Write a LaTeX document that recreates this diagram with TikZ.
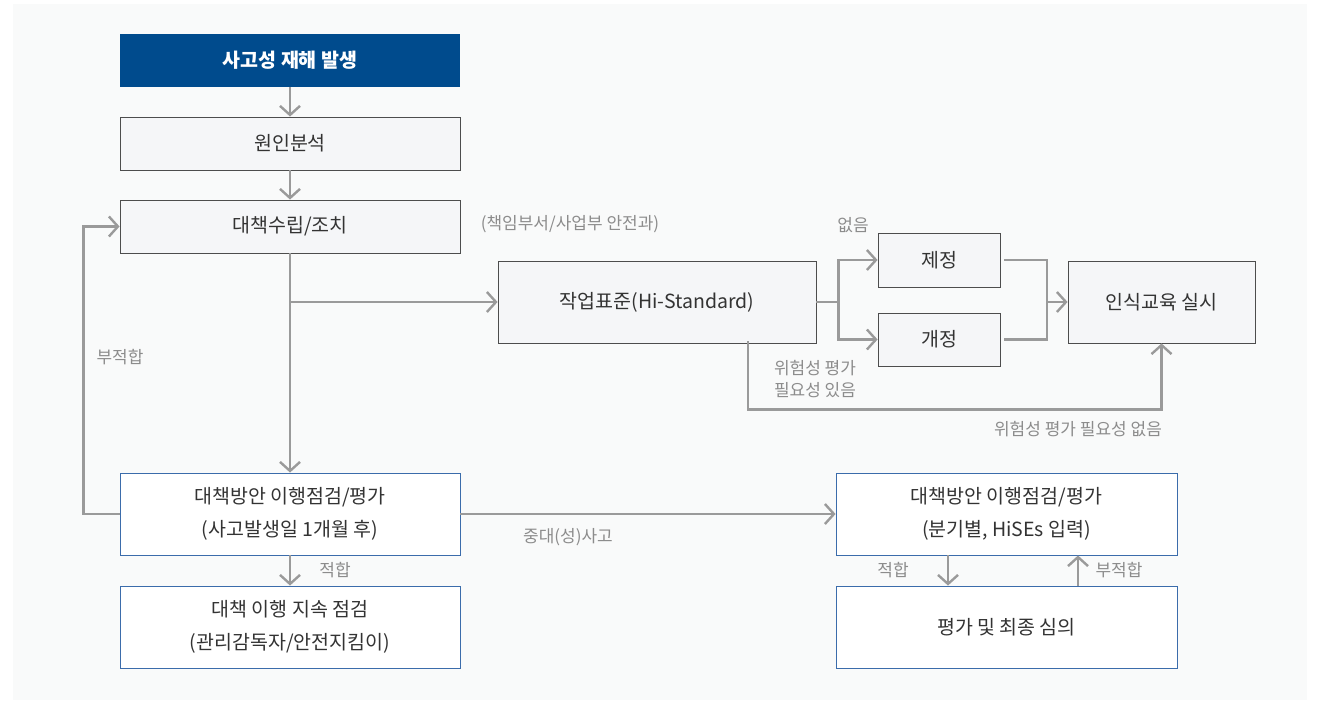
\documentclass[tikz,border=0pt]{standalone}
\usepackage{fontspec}
\setmainfont{Noto Sans CJK KR}
\usetikzlibrary{arrows.meta}
\definecolor{navy}{HTML}{004B8D}
\definecolor{boxfill}{HTML}{F5F6F8}
\definecolor{boxline}{HTML}{4D4D4D}
\definecolor{blueline}{HTML}{3B6CAB}
\definecolor{bgfill}{HTML}{F9FAFA}
\definecolor{ink}{HTML}{333333}
\definecolor{flow}{HTML}{9A9A9A}
\definecolor{note}{HTML}{8C8C8C}

\begin{document}
\begin{tikzpicture}[x=1pt, y=-1pt,
    box/.style={draw=boxline, fill=boxfill, text=ink, inner sep=0pt, line width=0.9pt,
      align=center, font=\fontsize{19.5}{33}\selectfont},
    wbox/.style={box, draw=blueline, fill=white},
    ln/.style={draw=flow, line width=2.4pt},
    arr/.style={ln, -{Straight Barb[length=9pt, width=20pt]}},
    lbl/.style={text=note, inner sep=0pt, align=center, font=\fontsize{17}{22.5}\selectfont}]
            \useasboundingbox (0,0) rectangle (1323,703);
            \fill[white] (0,0) rectangle (1323,703);
            \fill[bgfill] (13,4) rectangle (1307,700);

            \node[box, draw=none, fill=navy, text=white, font=\fontsize{19.5}{33}\selectfont\bfseries,
              minimum width=340pt, minimum height=53pt] (accident) at (290,60.5) {사고성 재해 발생};
            \node[box, minimum width=340pt, minimum height=53pt] (cause) at (290,143.5) {원인분석};
            \node[box, minimum width=340pt, minimum height=53pt] (plan) at (290,226.5) {대책수립/조치};
            \node[box, minimum width=318pt, minimum height=82pt] (std) at (657,302) {작업표준(Hi-Standard)};
            \node[box, minimum width=122pt, minimum height=54pt] (enact) at (939,260) {제정};
            \node[box, minimum width=122pt, minimum height=53pt] (revise) at (939,339.5) {개정};
            \node[box, minimum width=187pt, minimum height=82pt] (edu) at (1161.5,302) {인식교육 실시};
            \node[wbox, minimum width=340pt, minimum height=82pt] (checkL) at (290,514) {대책방안 이행점검/평가\\(사고발생일 1개월 후)};
            \node[wbox, minimum width=340pt, minimum height=82pt] (keep) at (290,627) {대책 이행 지속 점검\\(관리감독자/안전지킴이)};
            \node[wbox, minimum width=341pt, minimum height=82pt] (checkR) at (1006.5,514) {대책방안 이행점검/평가\\(분기별, HiSEs 입력)};
            \node[wbox, minimum width=341pt, minimum height=82pt] (review) at (1006.5,627) {평가 및 최종 심의};

            \coordinate (split) at (290,302);
            \coordinate (merge) at (1047,302);

            \draw[arr] (accident) -- (cause);
            \draw[arr] (cause) -- (plan);
            \draw[arr] (plan) -- (checkL);
            \draw[arr] (split) -- (std);
            \draw[arr] (std.east) -- ++(22,0) |- (enact);
            \draw[arr] (std.east) -- ++(22,0) |- (revise);
            \draw[ln] ([xshift=4pt]enact.east) -| (merge);
            \draw[ln] ([xshift=4pt]revise.east) -| (merge);
            \draw[arr] (merge) -- (edu);
            \draw[arr] ([xshift=91pt, yshift=2pt]std.south) -- ++(0,68) -| (edu.south);
            \draw[arr] (checkL.west) -- ++(-36,0) |- (plan.west);
            \draw[arr] (checkL) -- (checkR);
            \draw[arr] (checkL) -- (keep);
            \draw[arr] ([xshift=-58.5pt]checkR.south) -- ([xshift=-58.5pt]review.north);
            \draw[arr] ([xshift=71.5pt]review.north) -- ([xshift=71.5pt]checkR.south);

            \node[lbl] (deptnote) at (570,224) {(책임부서/사업부 안전과)};
            \node[lbl] (nonenote) at (853,225) {없음};
            \node[lbl] (needyes) at (815,379) {위험성 평가\\필요성 있음};
            \node[lbl] (needno) at (1078,429) {위험성 평가 필요성 없음};
            \node[lbl] (failL) at (120,357) {부적합};
            \node[lbl] (major) at (568,537) {중대(성)사고};
            \node[lbl] (passL) at (335,570) {적합};
            \node[lbl] (passR) at (893,570) {적합};
            \node[lbl] (failR) at (1119,570) {부적합};
        \end{tikzpicture}
\end{document}
